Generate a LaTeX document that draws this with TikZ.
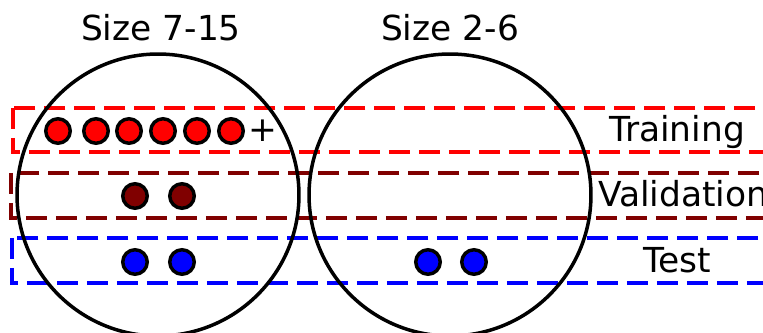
\documentclass[tikz,border=0pt]{standalone}
\usepackage{fontspec}
\setmainfont{DejaVu Sans}

\definecolor{valred}{RGB}{128,0,0}

\begin{document}
\begin{tikzpicture}[x = 0.02cm, y = -0.02cm,
    split/.style = {line width = 0.07cm, dash pattern = on 0.42cm off 0.18cm},
    group/.style = {circle, draw, line width = 0.07cm, minimum size = 5.64cm, inner sep = 0pt},
    dot/.style = {circle, draw = black, line width = 0.07cm, minimum size = 0.49cm, inner sep = 0pt},
    lbl/.style = {font = \fontsize{19.6}{23}\selectfont, inner sep = 0pt}]
    \useasboundingbox (0, 0) rectangle (763, 333);
    \clip (0, 0) rectangle (763, 333);

    % the three splits
    \draw[split, red] (13, 108) rectangle (790, 152);
    \draw[split, valred] (11, 173) rectangle (790, 218);
    \draw[split, blue] (12, 238) rectangle (790, 283);

    % the two size groups
    \node[group] (large) at (158, 195) {};
    \node[group] (small) at (450, 195) {};
    \node[lbl, anchor = base] (largetitle) at (161, 41) {Size 7-15};
    \node[lbl, anchor = base] (smalltitle) at (450, 41) {Size 2-6};

    % graphs
    \foreach \px [count = \i] in {58, 96, 129, 163, 197, 231}
        \node[dot, fill = red] (train\i) at (\px, 131) {};
    \node[lbl] (more) at (263, 131) {+};
    \node[dot, fill = valred] (val1) at (135, 196) {};
    \node[dot, fill = valred] (val2) at (182, 196) {};
    \node[dot, fill = blue] (test1) at (135, 262) {};
    \node[dot, fill = blue] (test2) at (182, 262) {};
    \node[dot, fill = blue] (test3) at (428, 262) {};
    \node[dot, fill = blue] (test4) at (474, 262) {};

    \node[lbl, anchor = base] (trainlbl) at (677, 142) {Training};
    \node[lbl, anchor = base west] (vallbl) at (598, 207) {Validation};
    \node[lbl, anchor = base] (testlbl) at (677, 273) {Test};
\end{tikzpicture}
\end{document}
